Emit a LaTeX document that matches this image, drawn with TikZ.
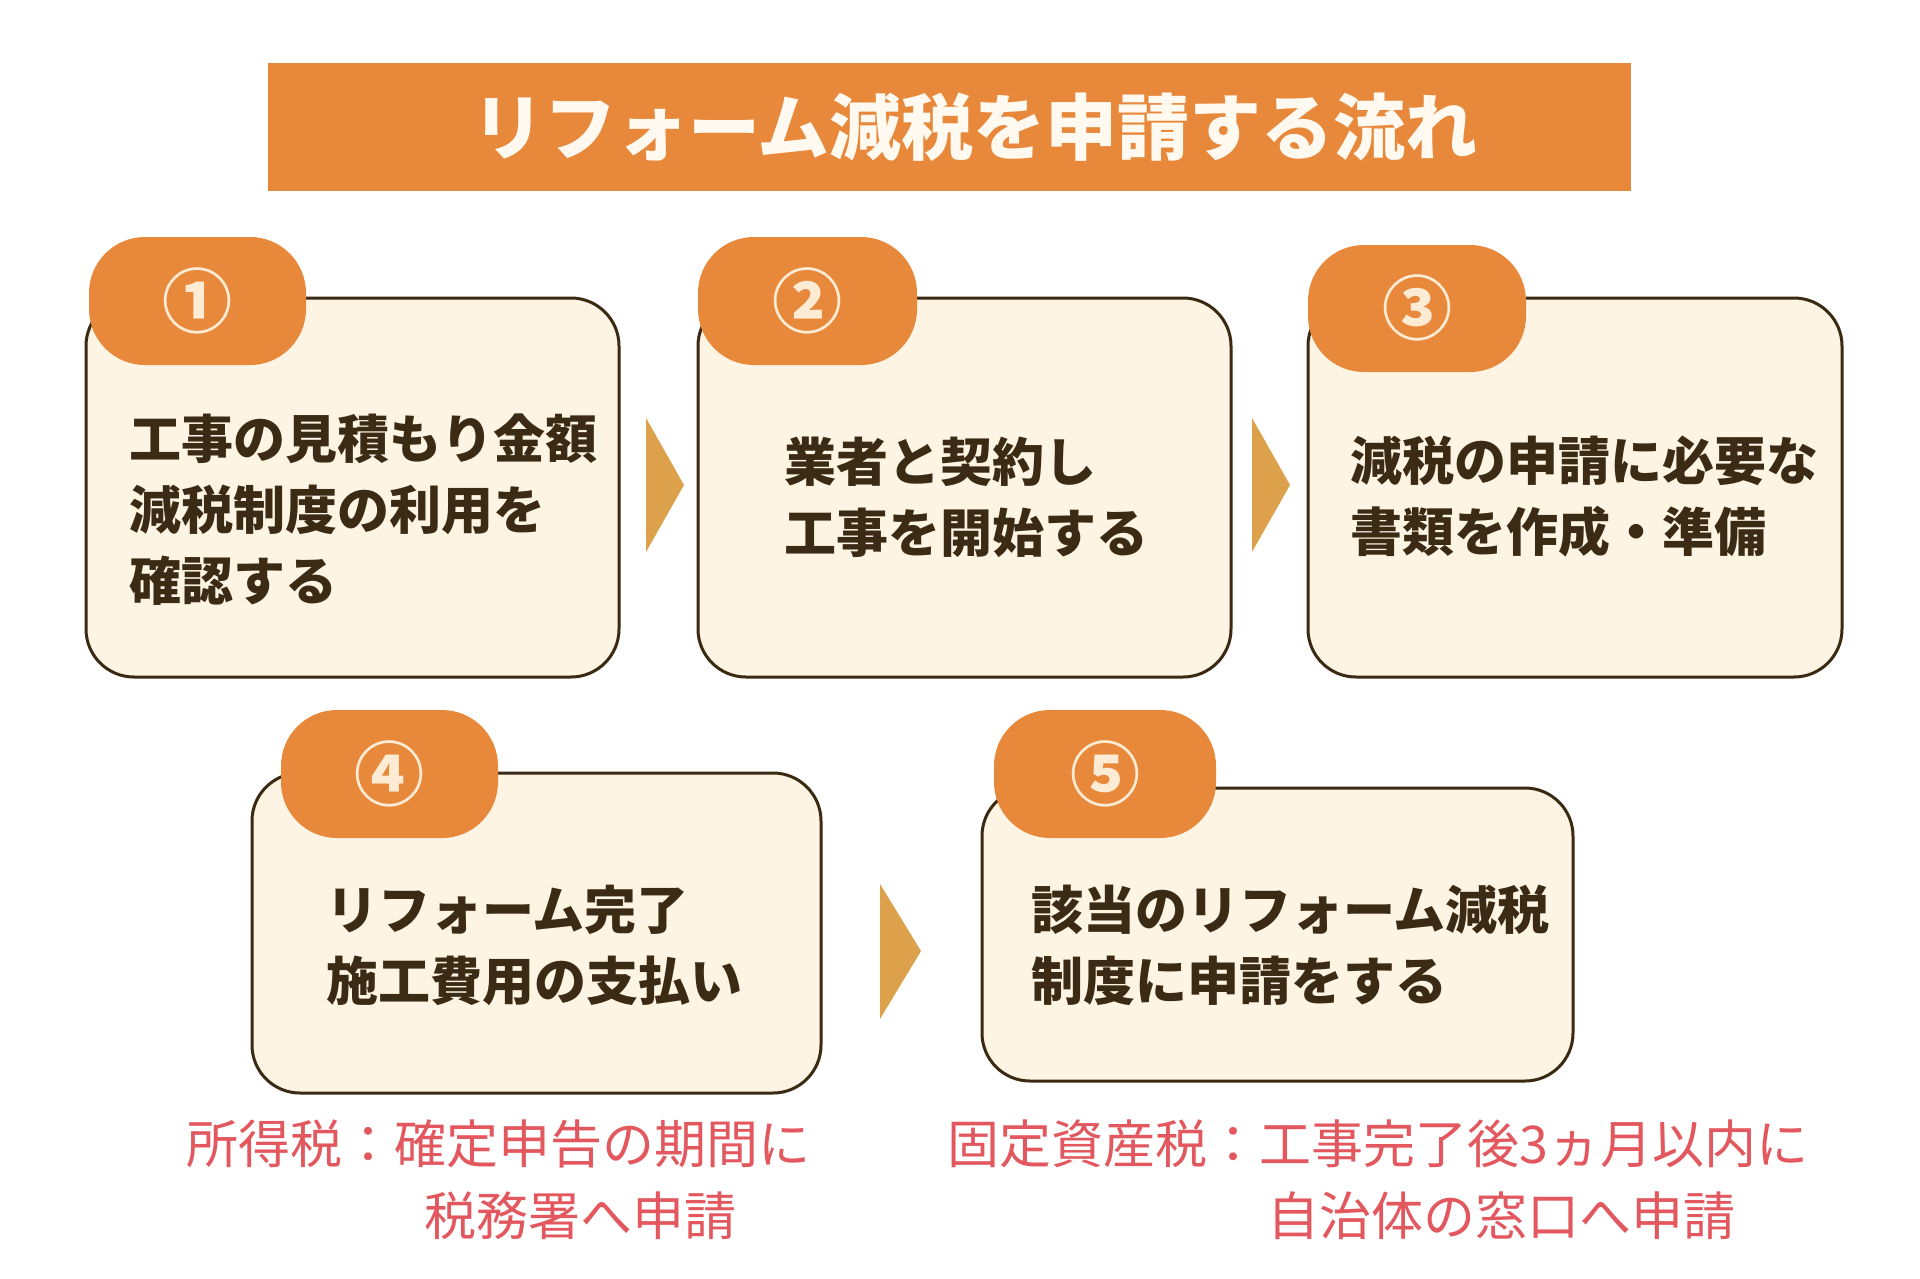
\documentclass[tikz,border=0pt]{standalone}
\usepackage{fontspec}
\setmainfont{Noto Sans CJK JP}
\begin{document}
\begin{tikzpicture}[x=1pt,y=-1pt,
  stepbox/.style={draw=boxline,line width=3pt,fill=boxfill,rounded corners=48pt},
  badge/.style={fill=orange1,rounded corners=56pt},
  badgenum/.style={text=numcol,font=\bfseries\fontsize{70}{70}\selectfont,inner sep=0pt},
  boxtext/.style={text=textcol,font=\bfseries\fontsize{52}{71}\selectfont,align=left,inner sep=0pt,anchor=west},
  notetext/.style={text=notecol,font=\fontsize{52}{72}\selectfont,align=left,inner sep=0pt,anchor=north west},
  chevron/.style={fill=arrowcol}
]
\definecolor{orange1}{HTML}{E8883B}
\definecolor{boxline}{HTML}{3A2A12}
\definecolor{boxfill}{HTML}{FDF4E4}
\definecolor{textcol}{HTML}{3B2A14}
\definecolor{numcol}{HTML}{FDEBD4}
\definecolor{notecol}{HTML}{E2585E}
\definecolor{arrowcol}{HTML}{DDA04B}
\definecolor{titletext}{HTML}{FFF9F0}

\useasboundingbox[fill=white] (0,0) rectangle (1920,1278);

% title
\fill[orange1] (268,63) rectangle (1631,191);
\node[text=titletext,font=\bfseries\fontsize{72}{72}\selectfont,inner sep=0pt] (title) at (975,127) {リフォーム減税を申請する流れ};

% boxes
\draw[stepbox] (86,298) rectangle (619,677);
\draw[stepbox] (698,298) rectangle (1231,677);
\draw[stepbox] (1308,298) rectangle (1842,677);
\draw[stepbox] (252,773) rectangle (821,1093);
\draw[stepbox] (982,788) rectangle (1573,1081);

\node[boxtext] (t1) at (129,510) {工事の見積もり金額\\減税制度の利用を\\確認する};
\node[boxtext] (t2) at (784,497) {業者と契約し\\工事を開始する};
\node[boxtext] (t3) at (1350,497) {減税の申請に必要な\\書類を作成・準備};
\node[boxtext] (t4) at (326,945) {リフォーム完了\\施工費用の支払い};
\node[boxtext] (t5) at (1031,945) {該当のリフォーム減税\\制度に申請をする};

% badges
\fill[badge] (89,237) rectangle (306,365);
\fill[badge] (698,237) rectangle (917,365);
\fill[badge] (1308,245) rectangle (1526,372);
\fill[badge] (281,710) rectangle (498,838);
\fill[badge] (994,710) rectangle (1216,838);
\node[badgenum] (n1) at (197,301) {①};
\node[badgenum] (n2) at (807,301) {②};
\node[badgenum] (n3) at (1417,308) {③};
\node[badgenum] (n4) at (389,774) {④};
\node[badgenum] (n5) at (1105,774) {⑤};

% arrows
\fill[chevron] (646,418) -- (684,485) -- (646,552) -- cycle;
\fill[chevron] (1252,418) -- (1290,485) -- (1252,552) -- cycle;
\fill[chevron] (880,884) -- (921,951) -- (880,1019) -- cycle;

% notes
\node[notetext] (note1) at (186,1120) {所得税：確定申告の期間に\\\hspace*{238pt}税務署へ申請};
\node[notetext] (note2) at (947,1120) {固定資産税：工事完了後3ヵ月以内に\\\hspace*{320pt}自治体の窓口へ申請};
\end{tikzpicture}
\end{document}
